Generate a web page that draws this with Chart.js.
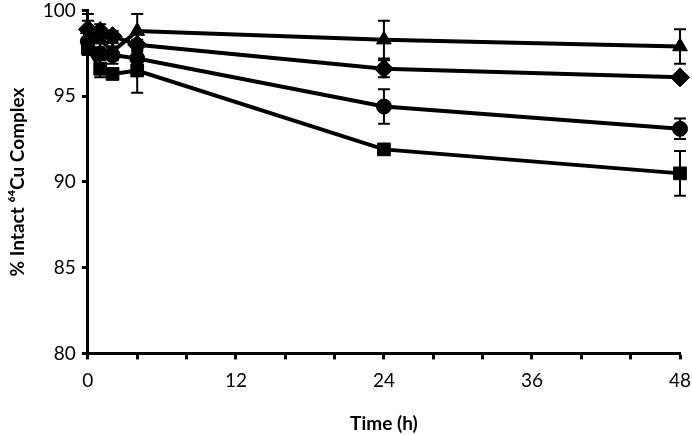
<!DOCTYPE html>
<html>
<head>
<meta charset="utf-8">
<script src="https://cdn.jsdelivr.net/npm/chart.js@4/dist/chart.umd.min.js"></script>
<style>
  html, body { margin: 0; padding: 0; background: #fff; }
  #wrap { width: 692px; height: 435px; }
</style>
</head>
<body>
<div id="wrap"><canvas id="myChart"></canvas></div>
<script>
// time points (h)
var times = [0, 1, 2, 4, 24, 48];

// % intact complex, per series
var triangleVals = [98.9, 98.3, 97.6, 98.8, 98.3, 97.9];
var diamondVals  = [98.9, 98.8, 98.5, 98.0, 96.6, 96.1];
var circleVals   = [98.2, 97.5, 97.4, 97.2, 94.4, 93.1];
var squareVals   = [97.8, 96.6, 96.3, 96.5, 91.9, 90.5];

// error (+/-)
var triangleErr = [0.9, 0.6, 0.5, 1.0, 1.1, 1.0];
var diamondErr  = [0.5, 0.4, 0.3, 0.3, 0.5, 0.2];
var circleErr   = [0.6, 0.6, 0.5, 0.4, 1.0, 0.6];
var squareErr   = [0.4, 0.5, 0.3, 1.3, 0.2, 1.3];

var yTicks = [80, 85, 90, 95, 100];
var xLabels = [0, 12, 24, 36, 48];

function toPoints(vals) {
  return times.map(function (t, i) { return { x: t, y: vals[i] }; });
}

function series(vals, errs, shape, size) {
  return {
    data: toPoints(vals),
    errs: errs,
    borderColor: '#000',
    backgroundColor: '#000',
    borderWidth: 4,
    pointStyle: shape,
    pointRadius: size,
    pointBorderWidth: 1,
    pointBackgroundColor: '#000',
    pointBorderColor: '#000',
    clip: false,
    tension: 0
  };
}

// error bars drawn through the scales
var errorBarPlugin = {
  id: 'errorBars',
  afterDatasetsDraw: function (chart) {
    var ctx = chart.ctx;
    var xs = chart.scales.x, ys = chart.scales.y;
    ctx.save();
    ctx.strokeStyle = '#000';
    ctx.lineWidth = 2;
    chart.data.datasets.forEach(function (ds) {
      ds.data.forEach(function (p, i) {
        var e = ds.errs[i];
        var px = xs.getPixelForValue(p.x);
        var top = ys.getPixelForValue(p.y + e);
        var bot = ys.getPixelForValue(p.y - e);
        ctx.beginPath();
        ctx.moveTo(px, top); ctx.lineTo(px, bot);
        ctx.moveTo(px - 6, top); ctx.lineTo(px + 6, top);
        ctx.moveTo(px - 6, bot); ctx.lineTo(px + 6, bot);
        ctx.stroke();
      });
    });
    ctx.restore();
  }
};

var font = "Lato, 'Open Sans', sans-serif";

new Chart('myChart', {
  type: 'line',
  data: {
    datasets: [
      series(triangleVals, triangleErr, 'triangle', 8.5),
      series(diamondVals, diamondErr, 'rectRot', 9.5),
      series(circleVals, circleErr, 'circle', 7.5),
      series(squareVals, squareErr, 'rect', 9)
    ]
  },
  options: {
    responsive: true,
    maintainAspectRatio: false,
    animation: false,
    layout: { padding: { top: 0, right: 0, left: 6, bottom: 0 } },
    plugins: {
      legend: { display: false },
      tooltip: { enabled: false }
    },
    scales: {
      x: {
        type: 'linear',
        min: 0, max: 48,
        border: { color: '#000', width: 3 },
        grid: { drawOnChartArea: false, drawTicks: true, tickLength: 6, tickColor: '#000', tickWidth: 3 },
        afterFit: function (axis) {
          axis.paddingRight = 12;
        },
        ticks: {
          stepSize: 4,
          autoSkip: false,
          maxRotation: 0,
          color: '#000',
          padding: 10,
          font: { family: font, size: 19 },
          callback: function (v) { return xLabels.indexOf(v) >= 0 ? String(v) : ''; }
        },
        title: {
          display: true, text: 'Time (h)', color: '#000',
          font: { family: font, size: 19, weight: 'bold' },
          padding: { top: 10, bottom: 0 }
        }
      },
      y: {
        min: 80, max: 100,
        border: { color: '#000', width: 3 },
        grid: { drawOnChartArea: false, drawTicks: true, tickLength: 6, tickColor: '#000', tickWidth: 3 },
        afterBuildTicks: function (axis) {
          axis.ticks = yTicks.map(function (v) { return { value: v }; });
        },
        afterFit: function (axis) {
          axis.paddingTop = 4;
        },
        ticks: {
          color: '#000',
          padding: 6,
          font: { family: font, size: 19 }
        },
        title: {
          display: true, text: '% Intact \u2076\u2074Cu Complex', color: '#000',
          font: { family: font, size: 19, weight: 'bold' },
          padding: { top: 0, bottom: 8 }
        }
      }
    }
  },
  plugins: [errorBarPlugin]
});
</script>
</body>
</html>
